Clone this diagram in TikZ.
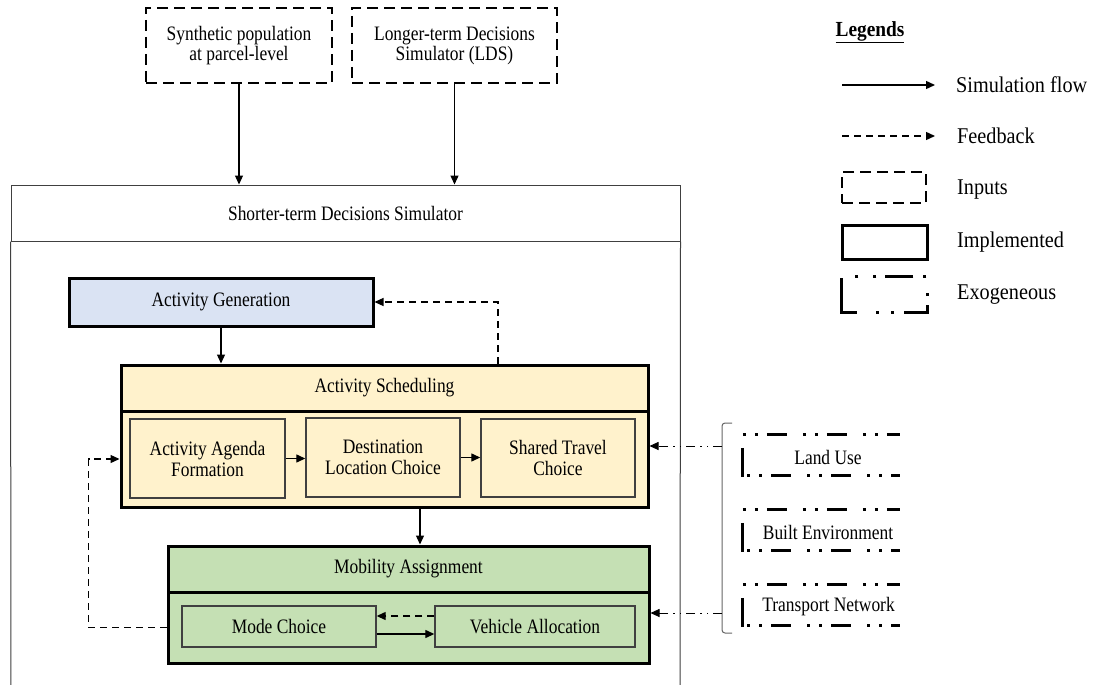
\documentclass[tikz,border=0pt]{standalone}
\usepackage{fontspec}
\setmainfont[FakeStretch=0.85]{Liberation Serif}
\newfontfamily\legendfont[FakeStretch=0.9]{Liberation Serif}
\usetikzlibrary{arrows.meta,calc}

\definecolor{agblue}{HTML}{DAE3F3}
\definecolor{asyellow}{HTML}{FFF2CC}
\definecolor{magreen}{HTML}{C5E0B4}
\definecolor{framegray}{HTML}{404040}

\begin{document}
\begin{tikzpicture}[x=1pt,y=-1pt,
  txt/.style={font=\fontsize{20.5}{21}\selectfont, align=center, inner sep=0pt},
  inputbox/.style={txt, draw, line width=1.6pt, dash pattern=on 11pt off 6pt},
  implbox/.style={txt, draw, line width=3pt},
  subbox/.style={txt, draw=framegray, line width=1.4pt},
  tip/.style={-{Triangle[length=9pt,width=8pt]}},
  flow/.style={line width=1.3pt, tip},
  fb/.style={line width=1.3pt, dash pattern=on 7pt off 5pt, tip},
  exotop/.style={line width=3.2pt, dash pattern=on 3pt off 9pt on 3pt off 9pt on 20pt off 16pt},
  exobottom/.style={line width=3.2pt, dash pattern=on 29pt off 3pt on 3pt off 9pt on 3pt off 9pt on 20pt off 16pt
     on 3pt off 9pt on 3pt off 9pt on 20pt off 16pt on 3pt off 9pt on 3pt off 9pt on 20pt off 16pt},
  exobox/.style={minimum width=157pt, minimum height=40pt, inner sep=0pt},
  exoarrow/.style={line width=0.9pt, dash pattern=on 9pt off 5pt on 1.5pt off 5pt on 1.5pt off 5pt, tip},
  legtxt/.style={font=\legendfont\fontsize{22.5}{24}\selectfont, anchor=west, inner sep=0pt}
]
\fill[white] (0,0) rectangle (1098,685);
\useasboundingbox (0,0) rectangle (1098,685);

% inputs
\node[inputbox, font=\fontsize{20.5}{20}\selectfont, minimum width=186pt, minimum height=75pt] (pop) at (239,45.5) {Synthetic population\\at parcel-level};
\node[inputbox, font=\fontsize{20.5}{20}\selectfont, minimum width=205pt, minimum height=75pt] (lds) at (454.5,45.5) {Longer-term Decisions\\Simulator (LDS)};

% shorter-term decisions simulator frame
\node[txt, draw=framegray, line width=1pt, minimum width=669pt, minimum height=56pt] (sds) at (345.5,213) {Shorter-term Decisions Simulator};
\coordinate (sdsbl) at (11,692);
\coordinate (sdsbr) at (680,692);
\draw[framegray, line width=1pt] (sds.south west) -- (sdsbl) (sds.south east) -- (sdsbr);

\draw[flow] (pop.south) -- (pop.south |- sds.north);
\draw[flow] (lds.south) -- (lds.south |- sds.north);

% activity generation
\node[implbox, fill=agblue, minimum width=304pt, minimum height=48pt] (ag) at (221,302) {Activity Generation};

% activity scheduling
\node[implbox, fill=asyellow, minimum width=527pt, minimum height=46pt] (ash) at (384.5,388) {Activity Scheduling};
\node[implbox, fill=asyellow, minimum width=527pt, minimum height=96pt] (asb) at (384.5,459) {};
\node[subbox, minimum width=155pt, minimum height=79pt] (aaf) at (207.5,458.5) {Activity Agenda\\Formation};
\node[subbox, minimum width=154pt, minimum height=79pt] (dlc) at (383,457.5) {Destination\\Location Choice};
\node[subbox, minimum width=154pt, minimum height=78pt] (stc) at (558,458) {Shared Travel\\Choice};
\draw[flow] (aaf.east) -- (aaf.east -| dlc.west);
\draw[flow] (dlc.east) -- (dlc.east -| stc.west);

% mobility assignment
\node[implbox, fill=magreen, minimum width=481pt, minimum height=46pt] (mah) at (408.5,569) {Mobility Assignment};
\node[implbox, fill=magreen, minimum width=481pt, minimum height=71pt] (mab) at (408.5,627.5) {};
\node[subbox, minimum width=194pt, minimum height=41pt] (mc) at (279,626.5) {Mode Choice};
\node[subbox, minimum width=200pt, minimum height=41pt] (va) at (535,626.5) {Vehicle Allocation};
\draw[fb] ([yshift=10.5pt]va.west) -- ([yshift=10.5pt]va.west -| mc.east);
\draw[flow] ([yshift=-7.5pt]mc.east) -- ([yshift=-7.5pt]mc.east -| va.west);

% flows between stages
\draw[flow] (ag.south) -- (ag.south |- ash.north);
\draw[fb] ([xshift=113.5pt]ash.north) |- (ag.east);
\draw[flow] ([xshift=11.5pt]mah.north |- asb.south) -- ([xshift=11.5pt]mah.north);
\draw[fb] (mab.west) -- ++(-78,0) |- (asb.west);

% exogenous inputs (boxes open on the right)
\node[exobox] (lu) at (821.5,455) {};
\node[exobox] (be) at (821.5,530) {};
\node[exobox] (tn) at (821.5,605) {};
\node[txt] (lut) at (828,457) {Land Use};
\node[txt] (bet) at (828,532) {Built Environment};
\node[txt] (tnt) at (828.5,607) {Transport Network};
\foreach \b in {lu,be,tn}{
  \draw[exotop] (\b.north west) -- (\b.north east);
  \draw[exobottom] ([yshift=-13pt]\b.north west) -- (\b.south west) -- (\b.south east);
}

\coordinate (brt) at (732,423);
\coordinate (brb) at (732,633);
\draw[black!60, line width=1pt, rounded corners=3pt] (brt) -- (722,423) -- (722,633) -- (brb);
\coordinate (br1) at (722,446);
\coordinate (br2) at (722,613);
\draw[exoarrow] (br1) -- (br1 -| asb.east);
\draw[exoarrow] (br2) -- (br2 -| mab.east);

% legend
\node[font=\legendfont\fontsize{21.5}{24}\selectfont\bfseries, inner sep=0pt] (legtitle) at (870,32) {\underline{Legends}};
\coordinate (l1a) at (842,85);
\coordinate (l1b) at (935,85);
\draw[flow] (l1a) -- (l1b);
\node[legtxt] (l1t) at (956,85) {Simulation flow};
\coordinate (l2a) at (842,136);
\coordinate (l2b) at (935,136);
\draw[fb] (l2a) -- (l2b);
\node[legtxt] (l2t) at (957,136) {Feedback};
\node[draw, line width=1.6pt, dash pattern=on 11pt off 6pt, minimum width=84pt, minimum height=31pt, inner sep=0pt] (l3) at (884,187.5) {};
\node[legtxt] (l3t) at (957,190) {Inputs};
\node[draw, line width=3pt, minimum width=85pt, minimum height=34pt, inner sep=0pt] (l4) at (884.5,242) {};
\node[legtxt] (l4t) at (957,242) {Implemented};
\node[minimum width=85pt, minimum height=35pt, inner sep=0pt] (l5) at (884.5,294.5) {};
\draw[line width=3.2pt, dash pattern=on 46pt off 19pt on 3pt off 12pt on 3pt off 10pt on 30pt off 9pt on 3pt off 17pt
   on 3pt off 10pt on 28pt off 9pt on 3pt off 15pt on 3pt off 15pt]
  ([yshift=-5pt]l5.north west) -- (l5.south west) -- (l5.south east) -- (l5.north east) -- (l5.north west) -- cycle;
\node[legtxt] (l5t) at (957,295) {Exogeneous};
\end{tikzpicture}
\end{document}
